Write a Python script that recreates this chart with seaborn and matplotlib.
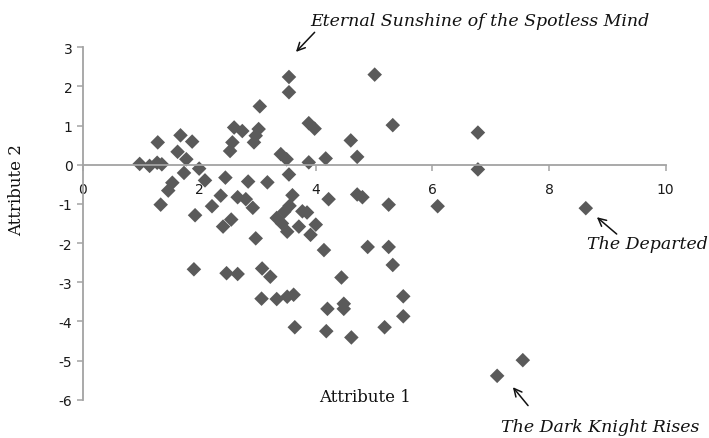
import matplotlib
matplotlib.use("Agg")
import matplotlib.pyplot as plt
import seaborn as sns
import pandas as pd

# values
attr1 = [
    0.98, 1.15, 1.28, 1.36, 1.29, 1.68, 1.88, 1.63, 1.78, 2.00,
    1.74, 2.10, 1.54, 1.47, 1.34, 2.45, 2.37, 2.22, 1.93, 2.60,
    2.74, 2.57, 2.53, 2.66, 2.80, 2.41, 2.55, 2.97, 3.02, 2.97,
    2.94, 3.04, 3.54, 3.54, 3.88, 3.98, 4.60, 4.71, 4.17, 3.88,
    3.40, 3.50, 5.01, 5.32, 6.78, 6.78, 3.54, 2.84, 3.17, 3.60,
    4.22, 4.71, 4.80, 5.25, 6.09, 2.92, 3.55, 3.46, 3.33, 3.42,
    3.77, 3.85, 3.51, 3.71, 3.91, 4.00, 4.14, 4.89, 5.25, 5.32,
    4.44, 1.91, 2.47, 2.66, 3.08, 3.22, 3.07, 3.33, 3.51, 3.62,
    3.64, 4.20, 4.48, 4.48, 5.50, 5.50, 4.18, 4.61, 5.18, 8.63,
    7.55, 7.11,
]
attr2 = [
    0.02, -0.03, 0.05, 0.01, 0.57, 0.75, 0.59, 0.33, 0.14, -0.10,
    -0.21, -0.40, -0.46, -0.66, -1.02, -0.33, -0.79, -1.06, -1.29, 0.95,
    0.86, 0.57, 0.35, -0.83, -0.88, -1.58, -1.40, -1.88, 0.91, 0.74,
    0.57, 1.49, 2.24, 1.85, 1.06, 0.92, 0.62, 0.20, 0.16, 0.06,
    0.27, 0.14, 2.30, 1.01, 0.82, -0.12, -0.25, -0.43, -0.45, -0.78,
    -0.88, -0.76, -0.83, -1.02, -1.06, -1.10, -1.05, -1.20, -1.36, -1.50,
    -1.19, -1.22, -1.71, -1.58, -1.79, -1.53, -2.18, -2.10, -2.10, -2.56,
    -2.88, -2.67, -2.77, -2.79, -2.65, -2.86, -3.42, -3.43, -3.37, -3.32,
    -4.15, -3.68, -3.55, -3.68, -3.36, -3.87, -4.25, -4.41, -4.15, -1.11,
    -4.99, -5.39,
]

callouts = ["Eternal Sunshine of the Spotless Mind", "The Departed", "The Dark Knight Rises"]

sns.set_theme(style="white")
plt.rcParams["axes.unicode_minus"] = False

df = pd.DataFrame({"Attribute 1": attr1, "Attribute 2": attr2})

fig = plt.figure(figsize=(7.09, 4.39), dpi=100)
ax = fig.add_axes([0.1164, 0.0872, 0.8225, 0.803])

sns.scatterplot(data=df, x="Attribute 1", y="Attribute 2", marker="D",
                s=55, color="#5a5a5a", edgecolor="none", ax=ax)

ax.set_xlim(0, 10)
ax.set_ylim(-6, 3)
ax.set_xticks(range(0, 11, 2))
ax.set_yticks(range(-6, 4))
ax.set_xlabel("")
ax.set_ylabel("")

for side in ["top", "right"]:
    ax.spines[side].set_visible(False)
ax.spines["bottom"].set_position(("data", 0))
for side in ["left", "bottom"]:
    ax.spines[side].set_color("#a3a3a3")
    ax.spines[side].set_linewidth(1.3)

ax.tick_params(axis="x", direction="out", length=4.3, width=1.1, color="#a3a3a3",
               pad=8, labelsize=10, labelcolor="#1a1a1a", bottom=True)
ax.tick_params(axis="y", direction="out", length=4.3, width=1.1, color="#a3a3a3",
               pad=3, labelsize=10, labelcolor="#1a1a1a", left=True)
for lab in ax.get_xticklabels() + ax.get_yticklabels():
    lab.set_fontfamily("DejaVu Sans")

ax.text(4.84, -5.93, "Attribute 1", ha="center", va="center",
        family="DejaVu Serif", fontsize=12, color="#111111")
fig.text(17 / 709, 1 - 190 / 439, "Attribute 2", rotation=90, ha="center",
         va="center", family="DejaVu Serif", fontsize=12, color="#111111")

arrow = dict(arrowstyle="->", lw=1.1, color="#111111", mutation_scale=14,
             shrinkA=0, shrinkB=0)
ax.annotate("", xy=(3.66, 2.88), xytext=(3.98, 3.38), arrowprops=arrow,
            annotation_clip=False)
fig.text(480 / 709, 1 - 21 / 439, callouts[0], ha="center", va="center",
         family="DejaVu Serif", style="italic", fontsize=12.5, color="#111111")

ax.annotate("", xy=(8.82, -1.34), xytext=(9.16, -1.77), arrowprops=arrow,
            annotation_clip=False)
fig.text(647 / 709, 1 - 245 / 439, callouts[1], ha="center", va="center",
         family="DejaVu Serif", style="italic", fontsize=12.5, color="#111111")

ax.annotate("", xy=(7.38, -5.68), xytext=(7.64, -6.15), arrowprops=arrow,
            annotation_clip=False)
fig.text(600 / 709, 1 - 428 / 439, callouts[2], ha="center", va="center",
         family="DejaVu Serif", style="italic", fontsize=12.5, color="#111111")

fig.savefig("out.png", dpi=100, facecolor="white")
